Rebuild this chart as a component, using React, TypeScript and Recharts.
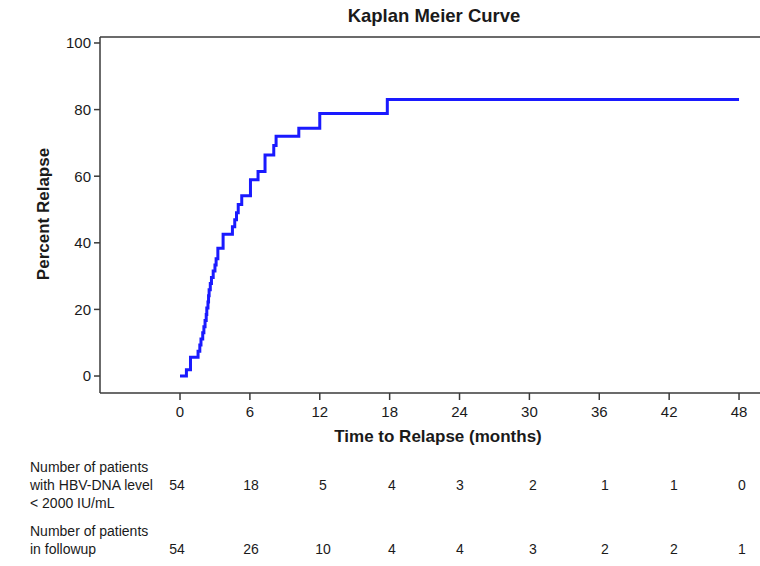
import { Line, LineChart, ReferenceLine, XAxis, YAxis } from 'recharts';

// Kaplan-Meier step points (months, percent relapsed)
const eventTimes = [
  0, 0.55, 0.9, 1.55, 1.7, 1.8, 1.95, 2.05, 2.15, 2.25, 2.3, 2.4, 2.45, 2.5, 2.6, 2.7,
  2.85, 3.0, 3.1, 3.25, 3.7, 4.5, 4.7, 4.85, 5.0, 5.3, 6.05, 6.7, 7.3, 8.05, 8.25, 10.2,
  12.0, 17.8, 48,
];
const percentRelapse = [
  0, 1.9, 5.6, 7.4, 9.3, 11.1, 13.0, 14.8, 16.7, 18.5, 20.4, 22.2, 24.1, 25.9, 27.8, 29.6,
  31.5, 33.3, 35.2, 38.4, 42.6, 44.8, 46.9, 49.0, 51.5, 54.1, 58.9, 61.4, 66.4, 69.2, 72.0,
  74.4, 78.8, 83.0, 83.0,
];

const xTicks = [0, 6, 12, 18, 24, 30, 36, 42, 48];
const yTicks = [0, 20, 40, 60, 80, 100];

// number at risk table
const belowThresholdLabel = ['Number of patients', 'with HBV-DNA level', '< 2000 IU/mL'];
const belowThreshold = [54, 18, 5, 4, 3, 2, 1, 1, 0];
const followupLabel = ['Number of patients', 'in followup'];
const inFollowup = [54, 26, 10, 4, 4, 3, 2, 2, 1];

const tableColumnsX = [177, 251, 323, 392, 460, 533, 605, 674, 742];

const font = '"Liberation Sans", Arial, sans-serif';
const axisColor = '#3a3a3a';
const textColor = '#1a1a1a';

export default function App() {
  const chartData = eventTimes.map((time, i) => ({ time, relapse: percentRelapse[i] }));

  const cell = (x: number, y: number, text: string | number, center = true) => (
    <div
      key={`${x}-${y}-${text}`}
      style={{
        position: 'absolute',
        left: center ? x - 30 : x,
        top: y,
        width: center ? 60 : 'auto',
        textAlign: center ? 'center' : 'left',
        fontSize: 14,
        lineHeight: '18px',
        whiteSpace: 'nowrap',
        color: textColor,
      }}
    >
      {text}
    </div>
  );

  return (
    <div
      style={{
        position: 'absolute',
        left: 0,
        top: 0,
        width: 760,
        height: 566,
        background: '#fff',
        fontFamily: font,
        overflow: 'hidden',
      }}
    >
      <LineChart
        width={760}
        height={566}
        data={chartData}
        margin={{ top: 37, right: 0, left: 0, bottom: 113 }}
      >
        <XAxis
          type="number"
          dataKey="time"
          domain={[-6.87, 49.8]}
          ticks={xTicks}
          height={60}
          tickSize={7}
          tickMargin={6}
          stroke={axisColor}
          strokeWidth={1.5}
          tick={{ fill: textColor, fontSize: 15, fontFamily: font }}
          allowDataOverflow
        />
        <YAxis
          type="number"
          domain={[-5.1, 101.8]}
          ticks={yTicks}
          width={100}
          tickSize={6}
          tickMargin={3}
          stroke={axisColor}
          strokeWidth={1.5}
          tick={{ fill: textColor, fontSize: 15, fontFamily: font }}
          allowDataOverflow
        />
        <ReferenceLine y={101.8} stroke={axisColor} strokeWidth={1.5} ifOverflow="extendDomain" />
        <Line
          type="stepAfter"
          dataKey="relapse"
          stroke="#1a1aff"
          strokeWidth={3}
          dot={false}
          isAnimationActive={false}
        />
      </LineChart>

      {/* titles */}
      <div
        style={{
          position: 'absolute',
          left: 0,
          width: 868,
          top: 5,
          textAlign: 'center',
          fontSize: 18.5,
          fontWeight: 'bold',
          color: textColor,
        }}
      >
        Kaplan Meier Curve
      </div>
      <div
        style={{
          position: 'absolute',
          left: 0,
          width: 876,
          top: 427,
          textAlign: 'center',
          fontSize: 17,
          fontWeight: 'bold',
          color: textColor,
        }}
      >
        Time to Relapse (months)
      </div>
      <div
        style={{
          position: 'absolute',
          left: 44,
          top: 214,
          transform: 'translate(-50%, -50%) rotate(-90deg)',
          fontSize: 17,
          fontWeight: 'bold',
          whiteSpace: 'nowrap',
          color: textColor,
        }}
      >
        Percent Relapse
      </div>

      {/* number at risk */}
      {belowThresholdLabel.map((t, i) => cell(30, 458 + i * 18, t, false))}
      {belowThreshold.map((v, i) => cell(tableColumnsX[i], 476, v))}
      {followupLabel.map((t, i) => cell(30, 522 + i * 18, t, false))}
      {inFollowup.map((v, i) => cell(tableColumnsX[i], 540, v))}
    </div>
  );
}
